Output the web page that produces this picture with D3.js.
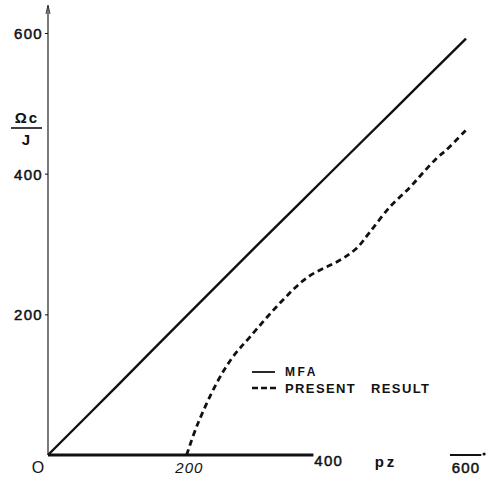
<!DOCTYPE html>
<html>
<head>
<meta charset="utf-8">
<script src="https://cdn.jsdelivr.net/npm/d3@7/dist/d3.min.js"></script>
<style>
  body { margin: 0; background: #fff; }
  svg { display: block; font-family: "Liberation Sans", Arial, sans-serif; }
  .num { stroke: #111; stroke-width: 0.5px; }
</style>
</head>
<body>
<svg width="487" height="478"></svg>
<script>
// values
var yTicks = [200, 400, 600];
var xTickLabels = ["200", "400", "600"];
var mfaPz = [0, 100, 200, 300, 400, 500, 600];
var mfaOmega = [0, 99, 199, 298, 396, 494, 592];
var presentPz = [199, 214, 242, 265, 290, 333, 373, 419, 443, 462, 491, 519, 538, 558, 572, 600];
var presentOmega = [0, 42, 102, 139, 168, 216, 253, 277, 294, 317, 353, 380, 401, 422, 434, 462];

var svg = d3.select("svg");
var ink = "#111";

var x = d3.scaleLinear().domain([0, 600]).range([48, 466]);
var y = d3.scaleLinear().domain([0, 600]).range([455, 33]);

// y axis: thin line with tiny ticks
svg.append("line")
    .attr("x1", x(0)).attr("x2", x(0))
    .attr("y1", y(0)).attr("y2", 6)
    .attr("stroke", "#333").attr("stroke-width", 1.3);
svg.append("path")
    .attr("d", "M" + (x(0) - 2) + ",14L" + x(0) + ",5L" + (x(0) + 2) + ",14")
    .attr("fill", "none").attr("stroke", "#333").attr("stroke-width", 1);

var yAxis = d3.axisLeft(y).tickValues(yTicks).tickSize(3).tickFormat(d3.format("d"));
var gy = svg.append("g").attr("transform", "translate(" + x(0) + ",0)").call(yAxis);
gy.select(".domain").remove();
gy.selectAll("line").attr("stroke", ink);
gy.selectAll("text")
    .attr("x", -5).attr("dy", "0.36em")
    .attr("fill", ink)
    .attr("class", "num")
    .style("font-size", "15px")
    .style("letter-spacing", "1.3px");

// x axis: heavy rule to 400 and the short bar above 600
svg.append("line")
    .attr("x1", x(0)).attr("x2", x(381))
    .attr("y1", y(0)).attr("y2", y(0))
    .attr("stroke", ink).attr("stroke-width", 3);
svg.append("line")
    .attr("x1", x(577)).attr("x2", x(622))
    .attr("y1", y(0)).attr("y2", y(0))
    .attr("stroke", ink).attr("stroke-width", 2.2);
svg.append("circle").attr("cx", x(626)).attr("cy", y(0) - 1).attr("r", 1.6).attr("fill", ink);

svg.append("text").attr("x", 38).attr("y", 473).attr("text-anchor", "middle")
    .attr("fill", ink).style("font-size", "16px").text("O");
svg.append("text").attr("x", x(200) + 2).attr("y", 473).attr("text-anchor", "middle")
    .attr("fill", ink).style("font-size", "15px").style("font-style", "italic")
    .style("letter-spacing", "1px").text(xTickLabels[0]);
svg.append("text").attr("x", x(400) + 2).attr("y", 466).attr("text-anchor", "middle")
    .attr("fill", ink).attr("class", "num").style("font-size", "15px")
    .style("letter-spacing", "1.2px").text(xTickLabels[1]);
svg.append("text").attr("x", x(600)).attr("y", 473).attr("text-anchor", "middle")
    .attr("fill", ink).attr("class", "num").style("font-size", "15px")
    .style("letter-spacing", "1.2px").text(xTickLabels[2]);
svg.append("text").attr("x", 386).attr("y", 467).attr("text-anchor", "middle")
    .attr("fill", ink).style("font-size", "15px").style("font-weight", "bold")
    .style("letter-spacing", "3px").text("pz");

// y axis title: Ωc over J
svg.append("text").attr("x", 27).attr("y", 123).attr("text-anchor", "middle")
    .attr("fill", ink).style("font-size", "15px").style("font-weight", "bold")
    .style("letter-spacing", "2px").text("Ωc");
svg.append("line").attr("x1", 11).attr("x2", 42).attr("y1", 128).attr("y2", 128)
    .attr("stroke", ink).attr("stroke-width", 1.6);
svg.append("text").attr("x", 26).attr("y", 145).attr("text-anchor", "middle")
    .attr("fill", ink).style("font-size", "15px").style("font-weight", "bold").text("J");

// curves
var line = d3.line()
    .x(function(d) { return x(d[0]); })
    .y(function(d) { return y(d[1]); })
    .curve(d3.curveCatmullRom);

svg.append("path")
    .datum(d3.zip(mfaPz, mfaOmega))
    .attr("d", line)
    .attr("fill", "none").attr("stroke", ink).attr("stroke-width", 2.4);

svg.append("path")
    .datum(d3.zip(presentPz, presentOmega))
    .attr("d", line)
    .attr("fill", "none").attr("stroke", ink).attr("stroke-width", 2.8)
    .attr("stroke-dasharray", "6,4");

// legend
var legend = svg.append("g");
legend.append("line").attr("x1", 252).attr("x2", 275).attr("y1", 372).attr("y2", 372)
    .attr("stroke", ink).attr("stroke-width", 1.8);
legend.append("line").attr("x1", 252).attr("x2", 276).attr("y1", 388).attr("y2", 388)
    .attr("stroke", ink).attr("stroke-width", 2.6).attr("stroke-dasharray", "6,3");
legend.append("text").attr("x", 285).attr("y", 376)
    .attr("fill", ink).style("font-size", "12px").style("font-weight", "bold")
    .style("letter-spacing", "2.5px").text("MFA");
legend.append("text").attr("x", 285).attr("y", 393)
    .attr("fill", ink).style("font-size", "13px").style("font-weight", "bold")
    .style("letter-spacing", "1.4px").text("PRESENT");
legend.append("text").attr("x", 371).attr("y", 393)
    .attr("fill", ink).style("font-size", "13px").style("font-weight", "bold")
    .style("letter-spacing", "1.4px").text("RESULT");
</script>
</body>
</html>
